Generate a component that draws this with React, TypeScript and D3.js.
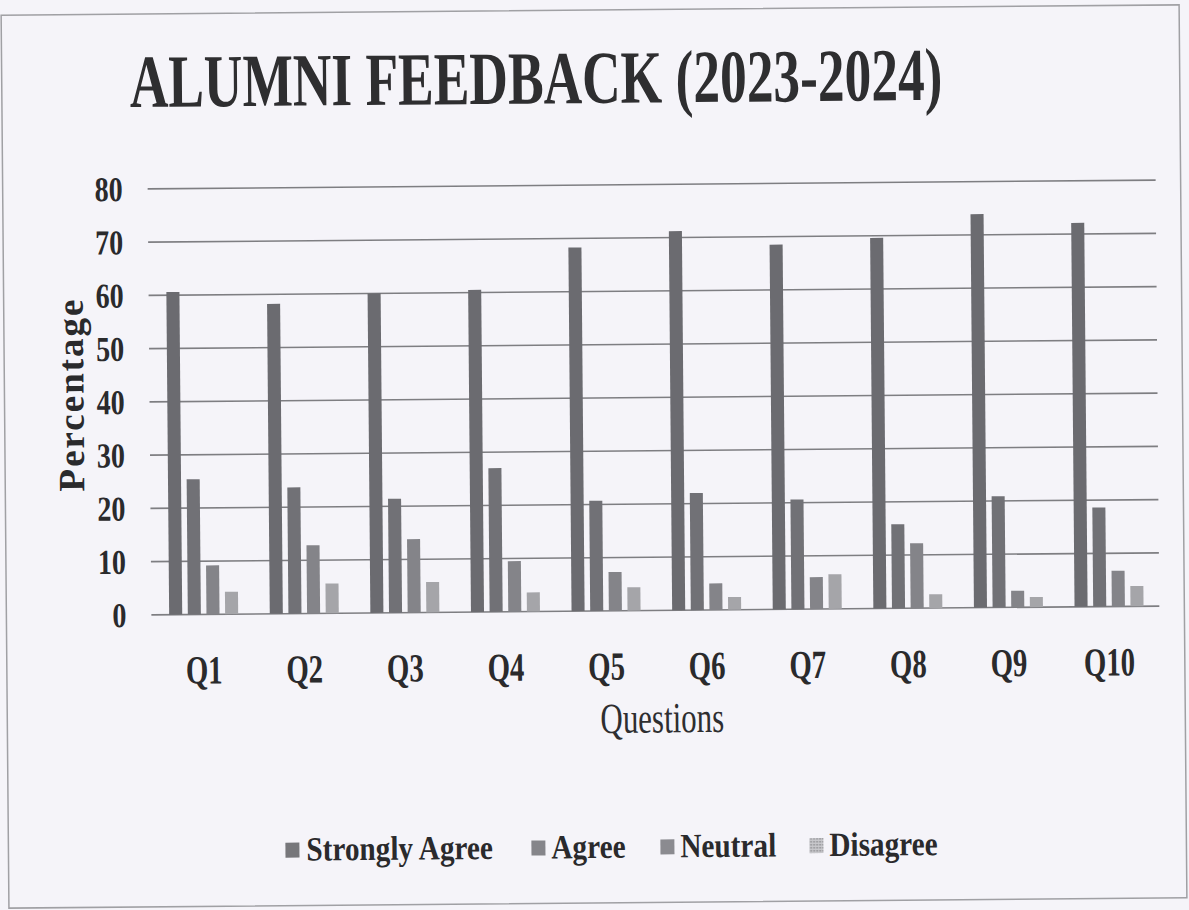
import React from "react";
import * as d3 from "d3";

const categories = ["Q1", "Q2", "Q3", "Q4", "Q5", "Q6", "Q7", "Q8", "Q9", "Q10"];
const seriesNames = ["Strongly Agree", "Agree", "Neutral", "Disagree"];
const stronglyAgree = [60.6, 58.2, 60.0, 60.5, 68.3, 71.2, 68.5, 69.6, 73.9, 72.1];
const agree = [25.4, 23.7, 21.4, 27.0, 20.7, 22.0, 20.6, 15.8, 20.9, 18.6];
const neutral = [9.2, 12.8, 13.8, 9.5, 7.3, 5.0, 6.0, 12.2, 3.1, 6.7];
const disagree = [4.2, 5.6, 5.7, 3.6, 4.4, 2.4, 6.5, 2.6, 1.9, 3.8];
const yTicks = [0, 10, 20, 30, 40, 50, 60, 70, 80];

const seriesValues = [stronglyAgree, agree, neutral, disagree];
const colors = ["#6b6b70", "#717176", "#848489", "#a5a5a9"];
const legendColors = ["#77777b", "#85858a", "#8b8b90", "url(#dis-pat)"];

const W = 1189;
const H = 910;
const FONT = "'Liberation Serif', 'Times New Roman', Times, serif";

export default function App() {
  const x0 = d3.scaleBand<string>().domain(categories).range([152, 1158]).paddingInner(0.314).paddingOuter(0.157);
  const x1 = d3.scaleBand<string>().domain(seriesNames).range([0, x0.bandwidth()]).paddingInner(0.3).paddingOuter(0);
  const y = d3.scaleLinear().domain([0, 80]).range([611, 185]);

  const legendItems = [
    { sq: 282, tx: 303 },
    { sq: 528, tx: 548 },
    { sq: 657, tx: 677 },
    { sq: 806, tx: 826 },
  ];

  return (
    <svg width={W} height={H} style={{ position: "absolute", left: 0, top: 0 }} fontFamily={FONT}>
      <defs>
        <pattern id="dis-pat" width="3" height="3" patternUnits="userSpaceOnUse">
          <rect width="3" height="3" fill="#c8c8cc" />
          <rect width="1.5" height="1.5" fill="#8a8a8e" />
        </pattern>
      </defs>
      <rect width={W} height={H} fill="#f5f4f9" />
      <g transform={`rotate(-0.5, ${W / 2}, ${H / 2})`}>
        <rect x={5} y={10} width={1178} height={893} fill="none" stroke="#a0a0a4" strokeWidth={1.5} />
        <g transform="translate(133, 103) scale(0.712, 1)">
          <text x={0} y={0} fontSize={75} fontWeight="bold" fill="#2e2e30">
            ALUMNI FEEDBACK (2023-2024)
          </text>
        </g>

        {yTicks.map((t) => (
          <g key={t}>
            <line x1={150} x2={1158} y1={y(t)} y2={y(t)} stroke="#7e7e82" strokeWidth={1.6} />
            <g transform={`translate(125, ${y(t) + 12}) scale(0.8, 1)`}>
              <text x={0} y={0} fontSize={35} fontWeight="bold" textAnchor="end" fill="#2a2a2c">
                {t}
              </text>
            </g>
          </g>
        ))}

        {categories.map((c, i) => (
          <g key={c} transform={`translate(${x0(c)}, 0)`}>
            {seriesNames.map((s, j) => (
              <rect
                key={s}
                x={x1(s)}
                y={y(seriesValues[j][i])}
                width={x1.bandwidth()}
                height={y(0) - y(seriesValues[j][i])}
                fill={colors[j]}
              />
            ))}
          </g>
        ))}

        {categories.map((c) => (
          <g key={c} transform={`translate(${(x0(c) as number) + x0.bandwidth() / 2}, 680) scale(0.72, 1)`}>
            <text x={0} y={0} fontSize={40} fontWeight="bold" textAnchor="middle" fill="#2a2a2c">
              {c}
            </text>
          </g>
        ))}

        <g transform="translate(660, 733) scale(0.72, 1)">
          <text x={0} y={0} fontSize={43} textAnchor="middle" fill="#2e2e30">
            Questions
          </text>
        </g>

        <text
          transform={`translate(84, 390) rotate(-90)`}
          fontSize={37}
          fontWeight="bold"
          textAnchor="middle"
          letterSpacing={2}
          fill="#2a2a2c"
        >
          Percentage
        </text>

        {seriesNames.map((s, j) => (
          <g key={s}>
            <rect x={legendItems[j].sq} y={840} width={14} height={15} fill={legendColors[j]} />
            <g transform={`translate(${legendItems[j].tx}, 858) scale(0.86, 1)`}>
              <text x={0} y={0} fontSize={34} fontWeight="bold" fill="#2a2a2c">
                {s}
              </text>
            </g>
          </g>
        ))}
      </g>
    </svg>
  );
}
